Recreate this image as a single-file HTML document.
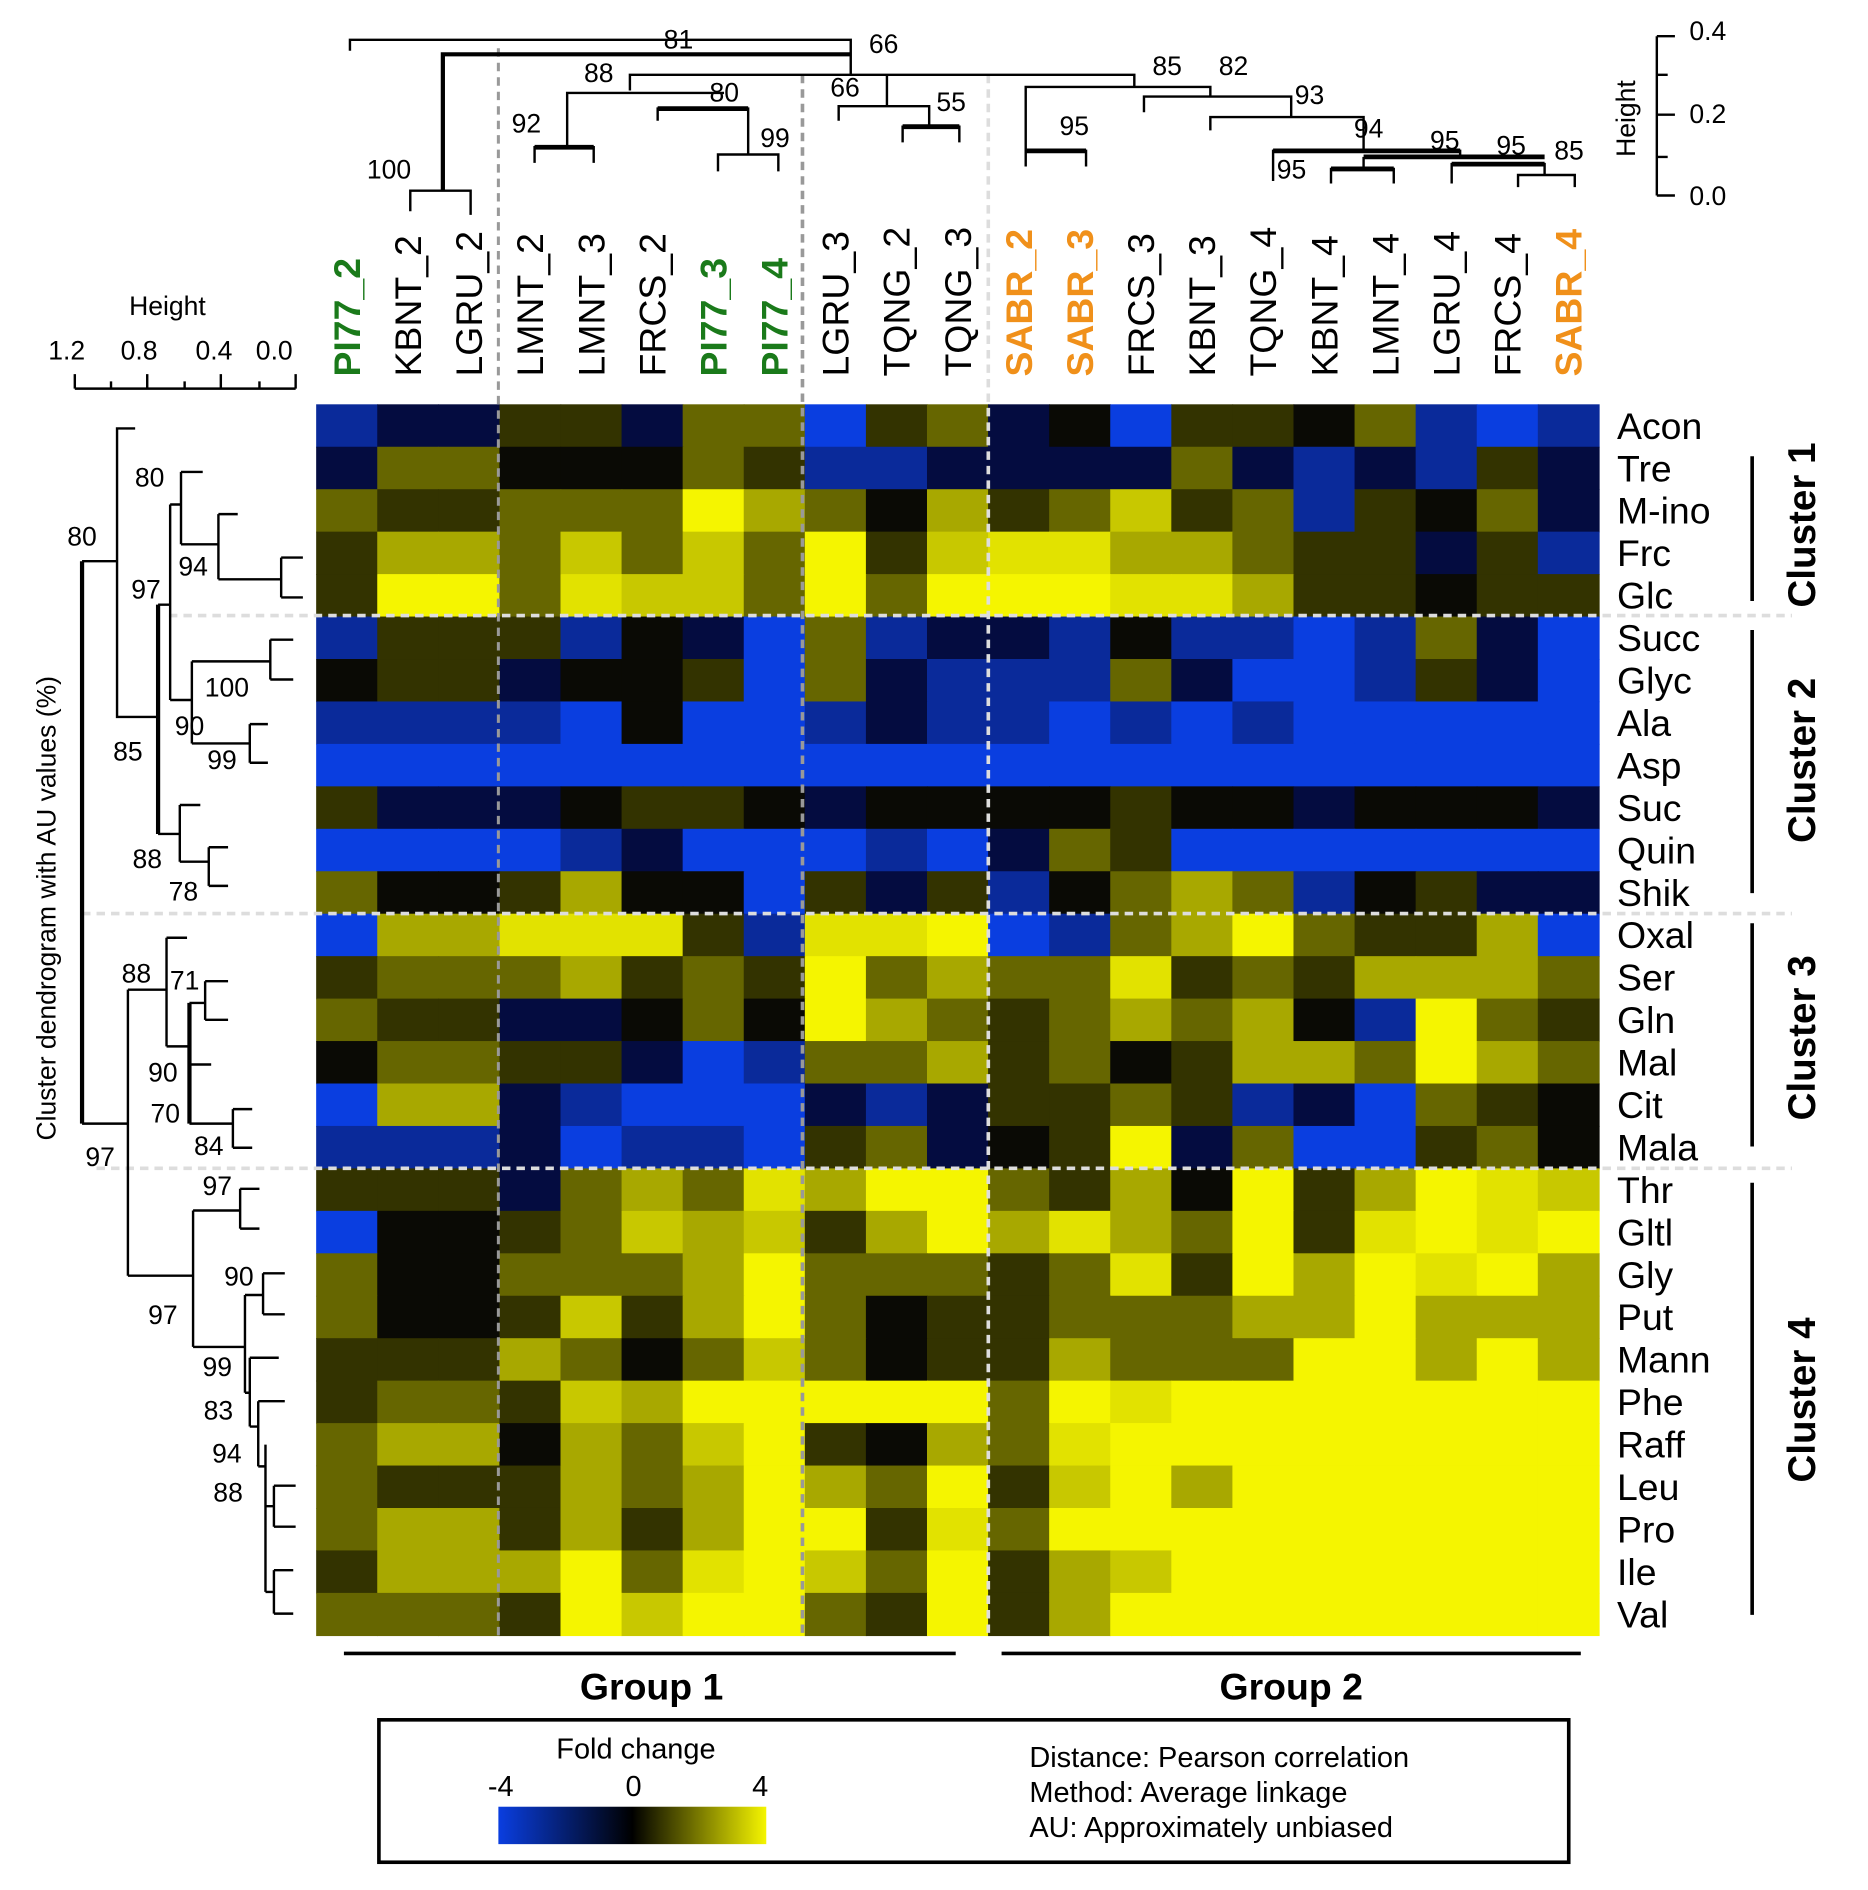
<!DOCTYPE html>
<html><head><meta charset="utf-8"><style>
html,body{margin:0;padding:0;background:#fff;}
svg{display:block;}
text{font-family:"Liberation Sans",Arial,sans-serif;}
</style></head><body>
<svg id="s" width="1868" height="1890" viewBox="0 0 1548 1566" preserveAspectRatio="none" xmlns="http://www.w3.org/2000/svg">
<rect x="0" y="0" width="1548" height="1566" fill="#fff"/>
<g id="hm"></g>
<!-- heatmap separators -->
<g fill="none" stroke-dasharray="7,5">
<line x1="413" y1="40" x2="413" y2="1358" stroke="#999" stroke-width="2.5"/>
<line x1="665" y1="62" x2="665" y2="1358" stroke="#999" stroke-width="3"/>
<line x1="819" y1="62" x2="819" y2="1358" stroke="#ddd" stroke-width="3"/>
<line x1="140" y1="510" x2="1485" y2="510" stroke="#ddd" stroke-width="3"/>
<line x1="68" y1="757" x2="1485" y2="757" stroke="#ddd" stroke-width="3"/>
<line x1="80" y1="968" x2="1485" y2="968" stroke="#ddd" stroke-width="3"/>
</g>
<!-- top dendrogram -->
<g stroke="#000" stroke-width="2" fill="none">
<path d="M290,42V33H705V62"/>
<path d="M367,158V45H705" stroke-width="3.5"/>
<path d="M340,175V158H390V178"/>
<path d="M522,75V62H940V72"/>
<path d="M470,122V77H600"/>
<path d="M443,135V122H492V135" />
<path d="M443,122H492" stroke-width="4"/>
<path d="M545,100V90H620V128" />
<path d="M545,90H620" stroke-width="4"/>
<path d="M595,142V128H645V142"/>
<path d="M735,88V62"/>
<path d="M695,100V88H770V105"/>
<path d="M748,118V105H795V118"/>
<path d="M748,105H795" stroke-width="4"/>
<path d="M850,138V72H1003V80"/>
<path d="M850,125H900V138"/>
<path d="M850,125H900" stroke-width="4"/>
<path d="M948,93V80H1070V97"/>
<path d="M1003,108V97H1130V125"/>
<path d="M1055,150V125H1210V130"/>
<path d="M1055,125H1210" stroke-width="4"/>
<path d="M1130,130H1280" stroke-width="4"/>
<path d="M1130,130V140"/>
<path d="M1103,152V140H1155V152"/>
<path d="M1103,140H1155" stroke-width="4"/>
<path d="M1203,152V136H1280V145"/>
<path d="M1203,136H1280" stroke-width="4"/>
<path d="M1258,155V145H1305V155"/>
</g>
<g font-size="22" fill="#000">
<text x="550" y="40">81</text><text x="720" y="44">66</text>
<text x="304" y="148">100</text><text x="484" y="68">88</text>
<text x="588" y="84">80</text><text x="424" y="110">92</text>
<text x="630" y="122">99</text><text x="688" y="80">66</text>
<text x="776" y="92">55</text><text x="878" y="112">95</text>
<text x="955" y="62">85</text><text x="1010" y="62">82</text>
<text x="1073" y="86">93</text><text x="1122" y="114">94</text>
<text x="1185" y="124">95</text><text x="1240" y="128">95</text>
<text x="1288" y="132">85</text><text x="1058" y="148">95</text>
</g>
<!-- top height axis -->
<g stroke="#000" stroke-width="2" fill="none">
<path d="M1373,30V162"/>
<path d="M1373,30H1388M1373,62H1382M1373,95H1388M1373,130H1382M1373,162H1388"/>
</g>
<g font-size="22"><text x="1400" y="33">0.4</text><text x="1400" y="102">0.2</text><text x="1400" y="170">0.0</text>
<text transform="translate(1355,130) rotate(-90)" font-size="22">Height</text></g>
<!-- column labels -->
<g font-size="31" id="cl"></g>
<!-- left axis -->
<g stroke="#000" stroke-width="2" fill="none">
<path d="M62,322H245M62,310V322M92,316V322M122,310V322M153,316V322M183,310V322M215,316V322M245,310V322"/>
</g>
<g font-size="22"><text x="107" y="261">Height</text>
<text x="40" y="298">1.2</text><text x="100" y="298">0.8</text><text x="162" y="298">0.4</text><text x="212" y="298">0.0</text>
<text transform="translate(46,945) rotate(-90)" font-size="22">Cluster dendrogram with AU values (%)</text></g>
<!-- left dendrogram -->
<g stroke="#000" stroke-width="2" fill="none">
<path d="M68,465V931" stroke-width="3.5"/>
<path d="M68,465H97M68,931H106"/>
<path d="M112,355H97V594H131"/>
<path d="M131,501V691" stroke-width="3.5"/>
<path d="M131,501H141M141,418V580"/>
<path d="M141,418H150M150,391V451M150,391H168M150,451H181M181,426V480M181,426H197M181,480H233M233,462V495M233,462H251M233,495H251"/>
<path d="M141,580H159M159,548V616M159,548H224M224,530V563M224,530H243M224,563H243M159,616H207M207,600V632M207,600H222M207,632H222"/>
<path d="M131,691H149M149,667V714M149,667H166M149,714H173M173,702V734M173,702H189M173,734H189"/>
<path d="M106,820V1057M106,820H138M138,777V867M138,777H155M138,867H157"/>
<path d="M157,831V931" stroke-width="3.5"/>
<path d="M157,831H170M170,813V845M170,813H189M170,845H189M157,882H175M157,931H193M193,919V951M193,919H209M193,951H209"/>
<path d="M106,1057H160M160,1003V1116M160,1003H199M199,985V1018M199,985H215M199,1018H215"/>
<path d="M160,1116H203M203,1073V1154M203,1073H218M218,1055V1089M218,1055H236M218,1089H236"/>
<path d="M203,1154H207M207,1125V1182M207,1125H231M207,1182H214M214,1161V1215M214,1161H236M214,1215H220M220,1197V1319M220,1248H227M227,1231V1265M227,1231H245M227,1265H245M220,1319H227M227,1301V1337M227,1301H243M227,1337H243"/>
</g>
<g font-size="22" text-anchor="middle">
<text x="124" y="403">80</text><text x="68" y="452">80</text><text x="160" y="477">94</text>
<text x="121" y="496">97</text><text x="188" y="577">100</text><text x="157" y="609">90</text>
<text x="106" y="630">85</text><text x="184" y="637">99</text><text x="122" y="719">88</text>
<text x="152" y="746">78</text><text x="113" y="814">88</text><text x="153" y="820">71</text>
<text x="135" y="896">90</text><text x="137" y="930">70</text><text x="173" y="957">84</text>
<text x="83" y="966">97</text><text x="180" y="990">97</text><text x="198" y="1065">90</text>
<text x="135" y="1097">97</text><text x="180" y="1140">99</text><text x="181" y="1176">83</text>
<text x="188" y="1212">94</text><text x="189" y="1244">88</text>
</g>
<!-- row labels -->
<g font-size="31" id="rl"></g>
<!-- cluster brackets -->
<g stroke="#000" stroke-width="3"><line x1="1452" y1="378" x2="1452" y2="498"/><line x1="1452" y1="522" x2="1452" y2="740"/><line x1="1452" y1="765" x2="1452" y2="950"/><line x1="1452" y1="980" x2="1452" y2="1338"/></g>
<g font-size="32" font-weight="bold" text-anchor="middle">
<text transform="translate(1504,435) rotate(-90)">Cluster 1</text>
<text transform="translate(1504,630) rotate(-90)">Cluster 2</text>
<text transform="translate(1504,860) rotate(-90)">Cluster 3</text>
<text transform="translate(1504,1160) rotate(-90)">Cluster 4</text>
</g>
<!-- groups -->
<g stroke="#000" stroke-width="3"><line x1="285" y1="1370" x2="792" y2="1370"/><line x1="830" y1="1370" x2="1310" y2="1370"/></g>
<g font-size="31" font-weight="bold" text-anchor="middle"><text x="540" y="1408">Group 1</text><text x="1070" y="1408">Group 2</text></g>
<!-- legend -->
<defs><linearGradient id="g" x1="0" x2="1" y1="0" y2="0"><stop offset="0" stop-color="#0a3ee0"/><stop offset="0.5" stop-color="#000"/><stop offset="1" stop-color="#f5f500"/></linearGradient></defs>
<rect x="314" y="1425" width="986" height="118" fill="none" stroke="#000" stroke-width="3"/>
<rect x="413" y="1497" width="222" height="31" fill="url(#g)"/>
<g font-size="24"><text x="527" y="1457" text-anchor="middle">Fold change</text>
<text x="415" y="1488" text-anchor="middle">-4</text><text x="525" y="1488" text-anchor="middle">0</text><text x="630" y="1488" text-anchor="middle">4</text>
<text x="853" y="1464">Distance: Pearson correlation</text><text x="853" y="1493">Method: Average linkage</text><text x="853" y="1522">AU: Approximately unbiased</text></g>
</svg>
<script>
(function(){
var P={B:"#0a3ee0",b:"#0a2a9a",n:"#040c40",k:"#0a0a05",d:"#333300",o:"#666600",y:"#a8a800",Z:"#c8c800",W:"#e2e200",Y:"#f5f500"};
var R=["bnnddnooBdonkBddkobBb","nookkkodbbnnnnonbnbdn","oddoooYyokydoZdobdkon","dyyoZoZoYdZWWyyoddndb","dYYoWZZoYoYYYWWyddkdd",
"bdddbknBobnnbkbbBbonB","kddnkkdBonbbbonBBbdnB","bbbbBkBBbnbbBbBbBBBBB","BBBBBBBBBBBBBBBBBBBBB",
"dnnnkddknkkkkdkknkkkn","BBBBbnBBBbBnodBBBBBBB","okkdykkBdndbkoyobkdnn",
"ByyWWWdbWWYBboyYoddyB","doooydodYoyooWdodyyyo","oddnnkokYyodoyoykbYod","kooddnBbooydokdyyoYyo","ByynbBBBnbnddodbnBodk","bbbnBbbBdonkdYnoBBdok",
"dddnoyoWyYYodykYdyYWZ","BkkdoZyZdyYyWyoYdWYWY","okkoooyYooodoWdYyYWYy","okkdZdyYokddoooyyYyyy","dddyokoZokddyoooYYyYy",
"doodZyYYYYYoYWYYYYYYY","oyykyoZYdkyoWYYYYYYYY","odddyoyYyoYdZYyYYYYYY","oyydydyYYdWoYYYYYYYYY","dyyyYoWYZoYdyZYYYYYYY","ooodYZYYodYdyYYYYYYYY"];
var ns="http://www.w3.org/2000/svg",g=document.getElementById("hm");
var x0=262,y0=335,cw=(1325-262)/21,rh=(1355-335)/29;
for(var r=0;r<29;r++)for(var c=0;c<21;c++){var e=document.createElementNS(ns,"rect");
e.setAttribute("x",x0+c*cw);e.setAttribute("y",y0+r*rh);e.setAttribute("width",cw+0.6);e.setAttribute("height",rh+0.6);
e.setAttribute("fill",P[R[r].charAt(c)]||"#000");g.appendChild(e);}
})();
</script>
<script>
(function(){
var ns="http://www.w3.org/2000/svg";
var cols=["PI77_2","KBNT_2","LGRU_2","LMNT_2","LMNT_3","FRCS_2","PI77_3","PI77_4","LGRU_3","TQNG_2","TQNG_3","SABR_2","SABR_3","FRCS_3","KBNT_3","TQNG_4","KBNT_4","LMNT_4","LGRU_4","FRCS_4","SABR_4"];
var g=document.getElementById("cl"),cw=(1325-262)/21;
cols.forEach(function(s,i){var t=document.createElementNS(ns,"text");var cx=262+cw*(i+0.5)+11;
t.setAttribute("transform","translate("+cx+",312) rotate(-90)");
t.setAttribute("fill",s.indexOf("PI77")==0?"#1a7a1a":(s.indexOf("SABR")==0?"#f0901a":"#000"));
if(s.indexOf("PI77")==0||s.indexOf("SABR")==0)t.setAttribute("font-weight","bold");
t.textContent=s;g.appendChild(t);});
var rows=["Acon","Tre","M-ino","Frc","Glc","Succ","Glyc","Ala","Asp","Suc","Quin","Shik","Oxal","Ser","Gln","Mal","Cit","Mala","Thr","Gltl","Gly","Put","Mann","Phe","Raff","Leu","Pro","Ile","Val"];
var r=document.getElementById("rl"),rh=(1355-335)/29;
rows.forEach(function(s,i){var t=document.createElementNS(ns,"text");t.setAttribute("x",1340);t.setAttribute("y",335+rh*(i+0.5)+11);t.textContent=s;r.appendChild(t);});
})();
</script>
</body></html>
